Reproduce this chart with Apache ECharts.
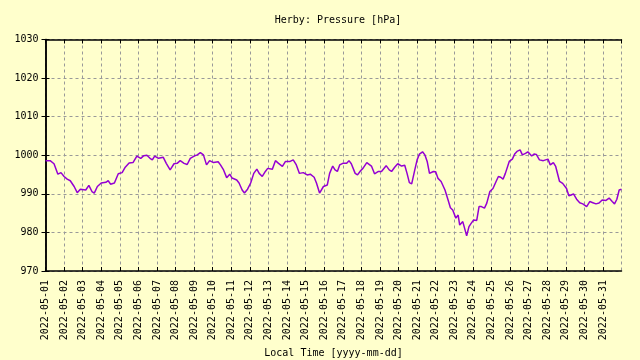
<!DOCTYPE html>
<html>
<head>
<meta charset="utf-8">
<script src="https://cdn.jsdelivr.net/npm/echarts@6/dist/echarts.min.js"></script>
<style>
html,body{margin:0;padding:0;background:#ffffcc;}
#chart{width:640px;height:360px;}
</style>
</head>
<body>
<div id="chart"></div>
<script>
// Hours since 2022-05-01 00:00 local time
var hours = [0,6,11,16,20,24,28,32,37,41,45,52,56,60,63,67,72,78,81,84,89,94,99,103,108,113,118,123,127,131,135,138,141,146,152,156,161,166,170,174,179,183,187,192,196,200,204,208,212,217,223,226,230,234,238,241,247,250,254,257,261,265,269,273,276,280,284,287,293,297,301,306,310,316,320,324,328,333,338,342,347,350,354,359,364,367,371,374,377,380,384,389,392,395,400,403,407,410,415,417,421,425,430,434,440,444,447,451,455,460,464,467,470,473,475,477,480,483,487,490,493,496,501,504,507,511,516,520,523,526,530,533,535,539,540,542,544,547,550,553,557,560,563,567,570,574,578,582,585,588,591,594,599,603,606,609,613,616,620,623,628,631,634,638,643,646,649,652,656,659,664,668,673,676,679,682,686,690,694,699,703,707,711,715,719,724,728,732,735,738,741,744];
// Pressure [hPa]
var pressure = [998.6,998.6,997.8,995.1,995.5,994.5,993.8,993.4,991.9,990.3,991.2,991.0,992.2,990.6,990.2,991.9,992.8,993.0,993.4,992.5,992.8,995.2,995.5,996.9,998.0,998.1,999.8,999.2,999.9,1000.0,999.2,998.8,999.8,999.2,999.5,997.9,996.2,997.8,997.9,998.6,997.9,997.6,999.2,999.8,1000.1,1000.7,1000.1,997.5,998.6,998.1,998.3,997.5,996.2,994.2,995.1,994.1,993.6,992.8,991.0,990.2,991.2,992.8,995.3,996.4,995.3,994.5,995.8,996.6,996.4,998.6,997.9,997.1,998.4,998.4,998.8,997.5,995.3,995.5,994.9,995.1,994.3,992.8,990.2,991.9,992.3,995.3,997.2,996.2,995.8,997.5,997.9,997.9,998.6,997.8,995.3,994.9,996.0,996.6,998.1,998.6,997.2,995.2,995.8,995.8,997.3,996.2,995.8,996.9,997.8,997.2,997.4,995.3,992.9,992.6,992.7,996.2,998.8,1000.3,1000.9,1000.1,998.4,995.3,995.8,995.7,994.0,993.2,991.0,988.4,986.4,985.8,983.7,984.5,981.9,982.8,983.2,980.6,979.1,981.5,982.4,983.2,983.1,986.7,986.7,986.3,987.6,990.6,991.4,993.2,994.5,994.3,993.8,995.3,998.4,999.0,1000.3,1001.0,1001.4,1000.1,1000.5,1000.9,999.8,1000.3,1000.2,998.8,998.6,998.8,999.0,997.5,998.1,997.1,993.2,992.7,991.4,989.5,989.7,990.0,988.6,987.7,987.4,986.7,988.0,987.7,987.4,987.6,988.4,988.3,988.9,988.0,987.4,988.6,991.0,991.2];
var dayLabels = ['2022-05-01','2022-05-02','2022-05-03','2022-05-04','2022-05-05','2022-05-06','2022-05-07','2022-05-08','2022-05-09','2022-05-10','2022-05-11','2022-05-12','2022-05-13','2022-05-14','2022-05-15','2022-05-16','2022-05-17','2022-05-18','2022-05-19','2022-05-20','2022-05-21','2022-05-22','2022-05-23','2022-05-24','2022-05-25','2022-05-26','2022-05-27','2022-05-28','2022-05-29','2022-05-30','2022-05-31'];
var yTicks = [970,980,990,1000,1010,1020,1030];
var titleText = 'Herby: Pressure [hPa]';
var xName = 'Local Time [yyyy-mm-dd]';

var FONT = '"DejaVu Sans Mono", monospace';
var data = hours.map(function(h,i){ return [h, pressure[i]]; });
var chart = echarts.init(document.getElementById('chart'), null, {renderer:'canvas'});
var gridLine = {show:true, lineStyle:{color:'#999999', type:[3,3], width:1}};
var axisLine = {show:true, lineStyle:{color:'#000', width:1.5}};
chart.setOption({
  backgroundColor:'#ffffcc',
  animation:false,
  title:{text:titleText, left:333, top:10, textAlign:'center',
    textStyle:{fontFamily:FONT, fontSize:10, fontWeight:'normal', color:'#000'}},
  grid:{left:45.5, right:18.5, top:39.5, bottom:89, containLabel:false, outerBoundsMode:'none'},
  xAxis:[{
    type:'value', min:0, max:744, interval:24,
    name:xName, nameLocation:'middle', nameGap:76,
    nameTextStyle:{fontFamily:FONT, fontSize:10, color:'#000'},
    axisLine:axisLine,
    axisTick:{show:true, inside:true, length:4, lineStyle:{color:'#000'}},
    splitLine:gridLine,
    axisLabel:{rotate:90, margin:9, fontFamily:FONT, fontSize:10, color:'#000',
      showMaxLabel:false,
      formatter:function(v){ return dayLabels[Math.round(v/24)] || ''; }}
  },{
    type:'value', min:0, max:744, interval:24, position:'top',
    axisLine:axisLine,
    axisTick:{show:true, inside:true, length:4, lineStyle:{color:'#000'}},
    axisLabel:{show:false}, splitLine:{show:false}
  }],
  yAxis:[{
    type:'value', min:yTicks[0], max:yTicks[yTicks.length-1], interval:10,
    axisLine:axisLine,
    axisTick:{show:true, inside:true, length:4, lineStyle:{color:'#000'}},
    splitLine:gridLine,
    axisLabel:{margin:7, fontFamily:FONT, fontSize:10, color:'#000',
      formatter:function(v){ return String(v); }}
  },{
    type:'value', min:yTicks[0], max:yTicks[yTicks.length-1], interval:10, position:'right',
    axisLine:axisLine,
    axisTick:{show:true, inside:true, length:4, lineStyle:{color:'#000'}},
    axisLabel:{show:false}, splitLine:{show:false}
  }],
  series:[{
    type:'line', data:data, showSymbol:false, smooth:false,
    lineStyle:{color:'#9400d3', width:1.5}, xAxisIndex:0, yAxisIndex:0
  }]
});
</script>
</body>
</html>
